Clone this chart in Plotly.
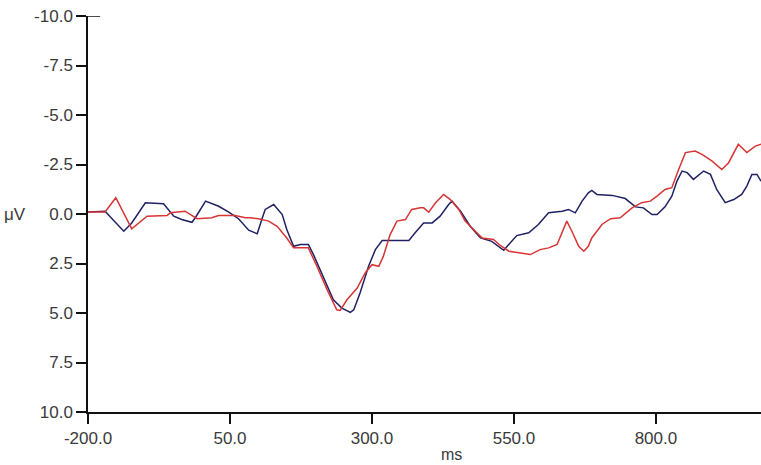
import plotly.graph_objects as go

red_ms = [-200, -170, -151, -123, -96, -61, -55, -29, -8, 18, 30, 59, 77, 86, 100, 118, 133, 150, 162, 188,
          203, 221, 238, 244, 256, 274, 288, 300, 312, 320, 332, 344, 359, 370, 385, 391, 400, 412, 426, 438,
          453, 464, 479, 494, 514, 526, 541, 564, 579, 596, 611, 626, 635, 643, 652, 664, 673, 681, 687, 705,
          720, 737, 758, 775, 790, 802, 816, 828, 840, 852, 869, 881, 899, 916, 928, 945, 960, 975, 985]
red_uv = [-0.1, -0.1, -0.82, 0.75, 0.11, 0.08, -0.06, -0.14, 0.24, 0.19, 0.08, 0.08, 0.19, 0.19, 0.24, 0.36, 0.62, 1.21, 1.71, 1.71,
          2.64, 3.82, 4.84, 4.87, 4.33, 3.74, 2.98, 2.56, 2.64, 2.14, 1.04, 0.36, 0.28, -0.23, -0.31, -0.31, -0.09, -0.57, -0.99, -0.73,
          -0.23, 0.36, 0.78, 1.21, 1.29, 1.59, 1.88, 1.96, 2.05, 1.80, 1.71, 1.54, 0.95, 0.36, 0.87, 1.63, 1.88, 1.63, 1.21, 0.53,
          0.24, 0.19, -0.31, -0.57, -0.65, -0.90, -1.24, -1.33, -2.25, -3.10, -3.18, -3.01, -2.67, -2.25, -2.59, -3.52, -3.10, -3.43, -3.52]

blue_ms = [-200, -170, -137, -123, -99, -67, -49, -35, -17, -11, 7, 30, 48, 65, 83, 98, 106, 112, 127, 142,
           150, 162, 174, 188, 197, 209, 221, 232, 247, 262, 268, 279, 294, 306, 318, 365, 376, 391, 406, 420,
           435, 441, 456, 473, 491, 511, 532, 544, 555, 576, 593, 611, 635, 646, 658, 670, 681, 687, 696, 723,
           746, 764, 778, 793, 802, 816, 828, 837, 846, 855, 866, 884, 896, 907, 922, 937, 951, 960, 969, 978, 985]
blue_uv = [-0.1, -0.14, 0.87, 0.45, -0.57, -0.52, 0.11, 0.28, 0.42, 0.19, -0.65, -0.39, -0.09, 0.24, 0.82, 1.0, 0.28, -0.23, -0.48, 0.03,
           0.78, 1.63, 1.54, 1.54, 2.05, 2.81, 3.66, 4.33, 4.75, 4.97, 4.84, 3.99, 2.64, 1.80, 1.34, 1.34, 0.95, 0.45, 0.45, 0.11,
           -0.48, -0.65, -0.14, 0.62, 1.21, 1.38, 1.83, 1.46, 1.09, 0.95, 0.53, -0.06, -0.14, -0.23, -0.06, -0.65, -1.07, -1.19, -0.99, -0.94,
           -0.78, -0.36, -0.31, 0.03, 0.03, -0.36, -0.90, -1.66, -2.17, -2.09, -1.75, -2.17, -2.0, -1.24, -0.57, -0.73, -0.99, -1.41, -2.0, -2.0, -1.66]

x_ticks = [-200, 50, 300, 550, 800]
y_ticks = [-10, -7.5, -5, -2.5, 0, 2.5, 5, 7.5, 10]

FONT = "Liberation Sans, Arial, sans-serif"

fig = go.Figure()
fig.add_trace(go.Scatter(x=blue_ms, y=blue_uv, mode="lines",
                         line=dict(color="#1f2163", width=1.5), showlegend=False))
fig.add_trace(go.Scatter(x=red_ms, y=red_uv, mode="lines",
                         line=dict(color="#d83434", width=1.5), showlegend=False))

fig.update_layout(
    width=761, height=465,
    margin=dict(l=88, r=0, t=16, b=53),
    paper_bgcolor="white", plot_bgcolor="white",
    font=dict(family=FONT, size=17, color="#3a3a3a"),
    xaxis=dict(range=[-200, 985], tickvals=x_ticks,
               ticktext=[f"{v:.1f}" for v in x_ticks],
               showgrid=False, zeroline=False, showline=True,
               linecolor="#111", linewidth=1.5, ticks="outside",
               ticklen=10, tickwidth=1.5, tickcolor="#111"),
    yaxis=dict(range=[10, -10], tickvals=y_ticks,
               ticktext=[f"{v:.1f}" for v in y_ticks],
               showgrid=False, zeroline=False, showline=True,
               linecolor="#111", linewidth=1.5, ticks="outside",
               ticklen=10, tickwidth=1.5, tickcolor="#111"),
    annotations=[
        dict(text="μV", xref="paper", yref="y", x=-0.108, y=0, xanchor="center",
             yanchor="middle", showarrow=False, font=dict(size=17, color="#3a3a3a")),
        dict(text="ms", xref="paper", yref="paper", x=0.54, y=-0.108, xanchor="center",
             yanchor="middle", showarrow=False, font=dict(size=16, color="#3a3a3a")),
    ],
    shapes=[dict(type="line", xref="paper", yref="y", x0=0, x1=0.018, y0=-10, y1=-10,
                 line=dict(color="#111", width=1.5))],
)

fig.write_html("out.html")
